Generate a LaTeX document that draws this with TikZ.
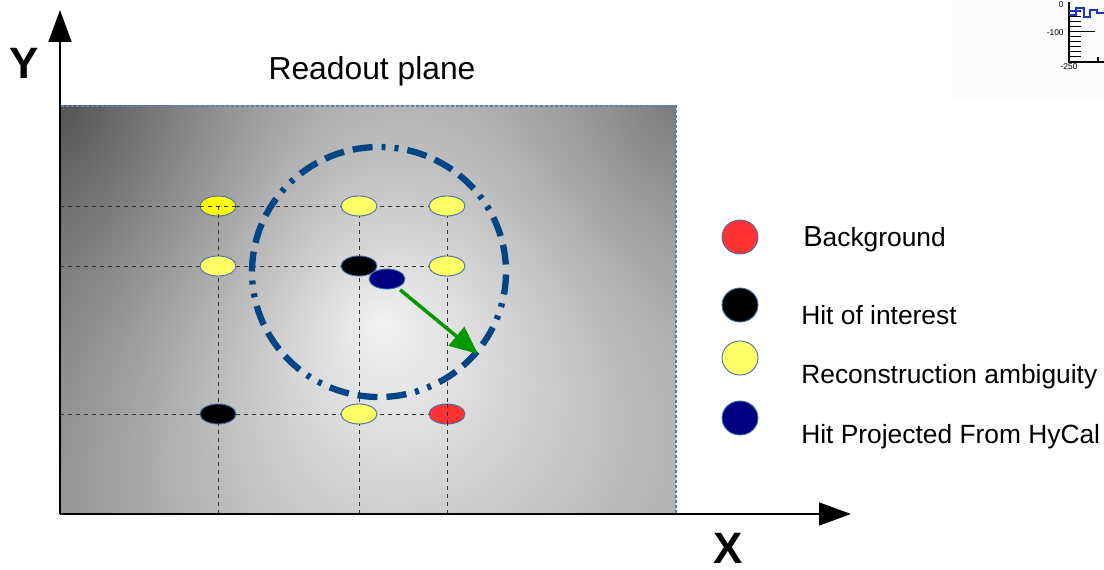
\documentclass[tikz,border=0pt]{standalone}
\usepackage{fontspec}
\setmainfont{Liberation Sans}
\usetikzlibrary{arrows.meta,shapes.geometric}

\definecolor{ringblue}{HTML}{004586}
\definecolor{edgeblue}{HTML}{3F6FA8}
\definecolor{frameblue}{HTML}{5B80B8}
\definecolor{hityellow}{HTML}{FFFF66}
\definecolor{hotyellow}{HTML}{FFFF00}
\definecolor{hitred}{HTML}{FF3333}
\definecolor{hitnavy}{HTML}{000080}
\definecolor{arrowgreen}{HTML}{009900}
\definecolor{histblue}{HTML}{2233BB}

% Grey field of the readout plane, worked out point by point in plane
% pixels (px,py): a bright centre near (380,320) that greys outwards,
% darkened towards the upper corners and the left edge.
\pgfdeclarefunctionalshading{planefield}{\pgfpoint{-50bp}{-50bp}}{\pgfpoint{50bp}{50bp}}{}{
  exch 12.32 mul 368 add
  exch -8.16 mul 310 add
  1 index 380 sub dup mul 1 index 320 sub dup mul add sqrt
  dup dup mul 0.0000007 mul exch 0.0011 mul sub 1 add
  2 index 60 sub dup mul 2 index 106 sub dup mul add sqrt
  560 div 1 exch sub dup abs add 0.5 mul dup mul 0.45 mul 1 exch sub mul
  2 index 676 sub dup mul 2 index 106 sub dup mul add sqrt
  450 div 1 exch sub dup abs add 0.5 mul dup mul 0.3 mul 1 exch sub mul
  2 index 60 sub 320 div 1 exch sub dup abs add 0.5 mul dup mul 0.12 mul 1 exch sub mul
  exch pop exch pop dup dup
}

\tikzset{
  hit/.style={ellipse, draw=edgeblue, line width=0.5pt, inner sep=0pt,
    minimum width=0.72cm, minimum height=0.4cm},
  keydot/.style={ellipse, draw=edgeblue, line width=0.5pt, inner sep=0pt,
    minimum width=0.72cm, minimum height=0.68cm},
  gridline/.style={draw=black!80, line width=0.55pt, dash pattern=on 0.08cm off 0.08cm},
  axisline/.style={line width=0.85pt, -{Triangle[length=0.64cm,width=0.46cm]}},
  ring/.style={draw=ringblue, line width=3.6pt,
    dash pattern=on 0.40cm off 0.18cm on 0.40cm off 0.18cm on 0.40cm off 0.18cm
                 on 0.08cm off 0.18cm on 0.08cm off 0.18cm,
    dash phase=1.11cm},
  keytext/.style={anchor=base west, inner sep=0pt, font=\fontsize{15}{18}\selectfont},
  axislabel/.style={anchor=base, inner sep=0pt, font=\fontsize{25}{30}\selectfont\bfseries},
  ticklabel/.style={inner sep=0pt, font=\fontsize{4.8}{5.5}\selectfont},
}

\begin{document}
\begin{tikzpicture}[x=0.02cm, y=-0.02cm]
\useasboundingbox (0,0) rectangle (1104,570);

% ---------- readout plane ----------
\coordinate (plTL) at (60,106);
\coordinate (plBR) at (676,514);
\shade[shading=planefield] (plTL) rectangle (plBR);
\draw[frameblue, line width=0.6pt, dash pattern=on 0.06cm off 0.04cm] (plTL) rectangle (plBR);

% ---------- strip grid ----------
\coordinate (r1w) at (60,206);  \coordinate (r1e) at (465,206);
\coordinate (r2w) at (60,266);  \coordinate (r2e) at (465,266);
\coordinate (r3w) at (60,414);  \coordinate (r3e) at (465,414);
\coordinate (c1n) at (218,206); \coordinate (c1s) at (218,514);
\coordinate (c2n) at (359,206); \coordinate (c2s) at (359,514);
\coordinate (c3n) at (447,206); \coordinate (c3s) at (447,514);
\foreach \a/\b in {r1w/r1e, r2w/r2e, r3w/r3e, c1n/c1s, c2n/c2s, c3n/c3s}
  \draw[gridline] (\a) -- (\b);

% ---------- hits ----------
\node[hit, fill=hotyellow]  (y11) at (218,206) {};
\node[hit, fill=hityellow]  (y12) at (359,206) {};
\node[hit, fill=hityellow]  (y13) at (447,206) {};
\node[hit, fill=hityellow]  (y21) at (218,266) {};
\node[hit, fill=black]      (b22) at (359,266) {};
\node[hit, fill=hityellow]  (y23) at (447,266) {};
\node[hit, fill=black]      (b31) at (218,414) {};
\node[hit, fill=hityellow]  (y32) at (359,414) {};
\node[hit, fill=hitred]     (r33) at (447,414) {};
\node[hit, fill=hitnavy]    (proj) at (387,279) {};
% strips that stay visible across two of the hits
\draw[gridline] (y11.west) -- (y11.east);
\draw[gridline] (y11.center) -- (y11.south);
\draw[gridline] (r33.north) -- (r33.south);

% ---------- search window ----------
\coordinate (ringc) at (379,272);
\draw[ring] (ringc) circle [x radius=127, y radius=125];
\coordinate (reach) at (478,354);
\draw[arrowgreen, line width=2pt, shorten <=2pt,
  -{Triangle[length=0.56cm,width=0.48cm]}] (proj) -- (reach);

% ---------- axes ----------
\coordinate (origin) at (60,514);
\coordinate (ytip) at (60,10);
\coordinate (xtip) at (851,514);
\draw[axisline] (origin) -- (ytip);
\draw[axisline] (origin) -- (xtip);
\node[axislabel] (ylab) at (24,79) {Y};
\node[axislabel] (xlab) at (728,563) {X};
\node[anchor=base, inner sep=0pt, font=\fontsize{18.1}{22}\selectfont] (title) at (372,80) {Readout plane};

% ---------- key ----------
\node[keydot, fill=hitred]    (k1) at (740,237) {};
\node[keydot, fill=black]     (k2) at (740,305) {};
\node[keydot, fill=hityellow] (k3) at (740,358) {};
\node[keydot, fill=hitnavy]   (k4) at (740,418) {};
\node[keytext] (t1) at (803,247) {{\fontsize{16.5}{18}\selectfont B}ackground};
\node[keytext] (t2) at (801,325) {Hit of interest};
\node[keytext] (t3) at (801,383) {Reconstruction ambiguity};
\node[keytext] (t4) at (801,443) {Hit Projected From HyCal};

% ---------- small histogram in the corner ----------
\fill[black!1.5] (952,0) rectangle (1104,100);
\coordinate (hax) at (1069,2);
\coordinate (hor) at (1069,62);
\coordinate (hxe) at (1104,62);
\draw[line width=0.8pt] (hax) -- (hor) -- (hxe);
\foreach \k in {0,...,10}
  \draw[line width=0.6pt] (1069,11+5.1*\k) -- ++(12,0);
\draw[line width=0.6pt] (1069,31.4) -- ++(26,0);
\draw[line width=0.6pt] (1098,62) -- ++(0,-5);
\draw[histblue, line width=0.6pt]
  (1069,15) -- (1076,15) -- (1076,8) -- (1084,8) -- (1084,17) -- (1090,17)
  -- (1090,10) -- (1097,10) -- (1097,13) -- (1104,13);
\draw[histblue, line width=0.6pt] (1069,11) -- (1080,11);
\node[ticklabel, anchor=east] (l0) at (1064,5) {0};
\node[ticklabel, anchor=east] (l100) at (1064,33) {-100};
\node[ticklabel] (l250) at (1069,67) {-250};
\end{tikzpicture}
\end{document}
